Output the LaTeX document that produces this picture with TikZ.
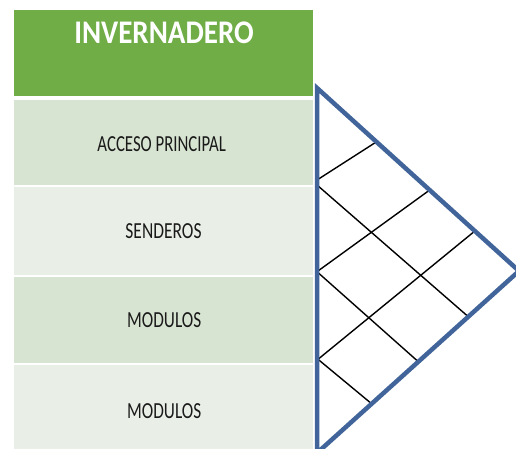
\documentclass[tikz,border=0pt]{standalone}
\usepackage{fontspec}
\setmainfont{Carlito}
\definecolor{hdrgreen}{HTML}{70AD47}
\definecolor{banddark}{HTML}{D8E4D2}
\definecolor{bandlight}{HTML}{E9EFE7}
\definecolor{triblue}{HTML}{41659A}
\definecolor{txtdark}{HTML}{1A1A1A}
\begin{document}
\begin{tikzpicture}[x=1pt,y=-1pt,
  cellbox/.style={rectangle, inner sep=0pt, minimum width=299pt, draw=none},
  hdrbox/.style={cellbox, fill=hdrgreen, minimum height=86pt},
  darkband/.style={cellbox, fill=banddark},
  lightband/.style={cellbox, fill=bandlight},
  rowtext/.style={inner sep=0pt, text=txtdark, font=\fontsize{23}{23}\selectfont},
  hdrtext/.style={inner sep=0pt, text=white, font=\bfseries\fontsize{33}{33}\selectfont},
  triline/.style={draw=triblue, line width=4.5pt, line join=miter},
  gridline/.style={draw=black, line width=1.4pt}]
\useasboundingbox (0,0) rectangle (516,449);
\clip (0,0) rectangle (516,449);
\fill[white] (0,0) rectangle (516,449);
% table
\node[hdrbox] (hdr) at (163.5,53) {};
\node[darkband, minimum height=85pt] (r1) at (163.5,142.5) {};
\node[lightband, minimum height=88pt] (r2) at (163.5,231) {};
\node[darkband, minimum height=86pt] (r3) at (163.5,320) {};
\node[lightband, minimum height=88pt] (r4) at (163.5,409) {};
\node[hdrtext] (hdrt) at (164,32.5) {\scalebox{0.88}[1]{INVERNADERO}};
\node[rowtext] (t1) at (161.7,144) {\scalebox{0.73}[1]{ACCESO PRINCIPAL}};
\node[rowtext] (t2) at (163.5,231) {\scalebox{0.76}[1]{SENDEROS}};
\node[rowtext] (t3) at (164.2,320) {\scalebox{0.75}[1]{MODULOS}};
\node[rowtext] (t4) at (164.2,411) {\scalebox{0.75}[1]{MODULOS}};
% triangle
\coordinate (T) at (317,88);
\coordinate (R) at (519,271);
\coordinate (B) at (317,453);
% grid points
\coordinate (a1) at (317,180);   \coordinate (a2) at (376.7,141.7);
\coordinate (b1) at (317,271.7); \coordinate (b2) at (430,189.8);
\coordinate (c1) at (318,359.3); \coordinate (c2) at (475,230.9);
\coordinate (d1) at (317,185);   \coordinate (d2) at (468.3,316.7);
\coordinate (e2) at (418.3,361.7);
\coordinate (f2) at (371.7,403.8);
\draw[gridline] (a1) -- (a2);
\draw[gridline] (b1) -- (b2);
\draw[gridline] (c1) -- (c2);
\draw[gridline] (d1) -- (d2);
\draw[gridline] (b1) -- (e2);
\draw[gridline] (c1) -- (f2);
\draw[triline] (T) -- (R) -- (B) -- cycle;
\end{tikzpicture}
\end{document}
